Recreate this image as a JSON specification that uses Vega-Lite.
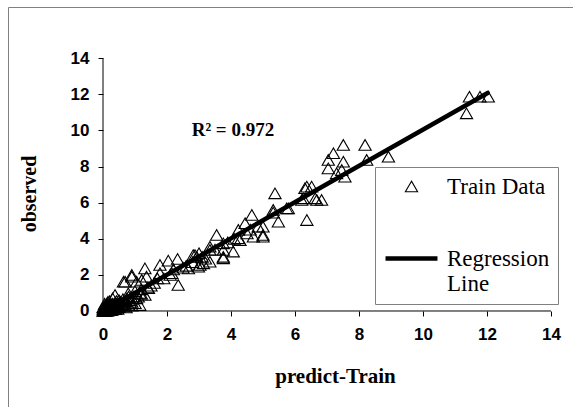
{
  "$schema": "https://vega.github.io/schema/vega-lite/v6.json",
  "width": 570,
  "height": 405,
  "autosize": {"type": "none"},
  "padding": {"left": 8, "top": 7, "right": 0, "bottom": 0},
  "background": "white",
  "config": {
    "view": {"stroke": "#808080", "strokeWidth": 1},
    "axis": {
      "grid": false,
      "domain": false,
      "tickColor": "black",
      "tickSize": 5,
      "labelFont": "Liberation Sans",
      "labelFontWeight": "bold",
      "labelFontSize": 17,
      "labelColor": "black",
      "titleFont": "Liberation Serif",
      "titleFontWeight": "bold",
      "titleFontSize": 21,
      "titleColor": "black"
    },
    "legend": {
      "orient": "none",
      "legendX": 367,
      "legendY": 160,
      "title": null,
      "strokeColor": "#808080",
      "fillColor": "white",
      "padding": 8,
      "labelFont": "Liberation Serif",
      "labelFontSize": 23,
      "labelColor": "black",
      "labelOffset": 7,
      "labelLimit": 0,
      "rowPadding": 31,
      "symbolStrokeColor": "black",
      "symbolFillColor": "transparent"
    }
  },
  "datasets": {
    "train": [
      {"predicted": 0.0, "observed": 0.0}, {"predicted": 0.02, "observed": 0.03}, {"predicted": 0.04, "observed": 0.0},
      {"predicted": 0.05, "observed": 0.08}, {"predicted": 0.07, "observed": 0.02}, {"predicted": 0.08, "observed": 0.12},
      {"predicted": 0.1, "observed": 0.05}, {"predicted": 0.1, "observed": 0.18}, {"predicted": 0.12, "observed": 0.1},
      {"predicted": 0.14, "observed": 0.22}, {"predicted": 0.15, "observed": 0.02}, {"predicted": 0.16, "observed": 0.15},
      {"predicted": 0.18, "observed": 0.3}, {"predicted": 0.2, "observed": 0.1}, {"predicted": 0.22, "observed": 0.25},
      {"predicted": 0.25, "observed": 0.05}, {"predicted": 0.25, "observed": 0.35}, {"predicted": 0.28, "observed": 0.18},
      {"predicted": 0.3, "observed": 0.4}, {"predicted": 0.32, "observed": 0.25}, {"predicted": 0.35, "observed": 0.12},
      {"predicted": 0.38, "observed": 0.45}, {"predicted": 0.4, "observed": 0.3}, {"predicted": 0.42, "observed": 0.55},
      {"predicted": 0.45, "observed": 0.2}, {"predicted": 0.48, "observed": 0.4}, {"predicted": 0.5, "observed": 0.6},
      {"predicted": 0.52, "observed": 0.3}, {"predicted": 0.55, "observed": 0.5}, {"predicted": 0.6, "observed": 0.42},
      {"predicted": 0.62, "observed": 0.65}, {"predicted": 0.65, "observed": 0.25}, {"predicted": 0.7, "observed": 0.55},
      {"predicted": 0.75, "observed": 0.7}, {"predicted": 0.8, "observed": 0.35}, {"predicted": 0.85, "observed": 0.6},
      {"predicted": 0.9, "observed": 0.5}, {"predicted": 0.95, "observed": 0.8}, {"predicted": 1.0, "observed": 0.43},
      {"predicted": 1.05, "observed": 0.7}, {"predicted": 1.1, "observed": 0.79}, {"predicted": 1.15, "observed": 1.0},
      {"predicted": 1.2, "observed": 0.95}, {"predicted": 0.375, "observed": 0.886}, {"predicted": 0.79, "observed": 0.98},
      {"predicted": 1.31, "observed": 0.89}, {"predicted": 1.42, "observed": 1.26}, {"predicted": 0.06, "observed": 0.3},
      {"predicted": 0.12, "observed": 0.4}, {"predicted": 0.2, "observed": 0.55}, {"predicted": 0.3, "observed": 0.7},
      {"predicted": 0.9, "observed": 0.3}, {"predicted": 1.15, "observed": 0.33},
      {"predicted": 0.01, "observed": 0.1}, {"predicted": 0.03, "observed": 0.15}, {"predicted": 0.06, "observed": 0.05},
      {"predicted": 0.09, "observed": 0.25}, {"predicted": 0.11, "observed": 0.0}, {"predicted": 0.13, "observed": 0.3},
      {"predicted": 0.17, "observed": 0.07}, {"predicted": 0.19, "observed": 0.2}, {"predicted": 0.21, "observed": 0.4},
      {"predicted": 0.23, "observed": 0.15}, {"predicted": 0.26, "observed": 0.28}, {"predicted": 0.29, "observed": 0.08},
      {"predicted": 0.33, "observed": 0.35}, {"predicted": 0.36, "observed": 0.2}, {"predicted": 0.39, "observed": 0.1},
      {"predicted": 0.43, "observed": 0.38}, {"predicted": 0.46, "observed": 0.12}, {"predicted": 0.5, "observed": 0.22},
      {"predicted": 0.58, "observed": 0.33}, {"predicted": 0.68, "observed": 0.4}, {"predicted": 0.72, "observed": 0.2},
      {"predicted": 0.0, "observed": 0.2}, {"predicted": 0.05, "observed": 0.4}, {"predicted": 0.15, "observed": 0.5},
      {"predicted": 0.64, "observed": 1.62}, {"predicted": 0.69, "observed": 1.62}, {"predicted": 0.9, "observed": 1.9},
      {"predicted": 0.9, "observed": 2.0}, {"predicted": 1.05, "observed": 1.62}, {"predicted": 1.21, "observed": 1.72},
      {"predicted": 1.31, "observed": 2.36}, {"predicted": 1.36, "observed": 1.9}, {"predicted": 1.78, "observed": 2.55},
      {"predicted": 1.78, "observed": 2.09}, {"predicted": 2.04, "observed": 2.79}, {"predicted": 2.33, "observed": 2.88},
      {"predicted": 2.15, "observed": 2.09}, {"predicted": 2.35, "observed": 1.44}, {"predicted": 2.67, "observed": 2.36},
      {"predicted": 2.875, "observed": 3.1}, {"predicted": 2.93, "observed": 3.0}, {"predicted": 2.98, "observed": 2.45},
      {"predicted": 3.14, "observed": 2.64}, {"predicted": 3.34, "observed": 2.73}, {"predicted": 3.03, "observed": 2.55},
      {"predicted": 2.82, "observed": 3.1}, {"predicted": 3.34, "observed": 3.38}, {"predicted": 3.76, "observed": 3.38},
      {"predicted": 3.76, "observed": 2.92}, {"predicted": 3.34, "observed": 3.56}, {"predicted": 3.76, "observed": 3.0},
      {"predicted": 3.76, "observed": 3.75}, {"predicted": 3.55, "observed": 4.21}, {"predicted": 4.07, "observed": 3.29},
      {"predicted": 4.23, "observed": 4.49}, {"predicted": 4.23, "observed": 4.03}, {"predicted": 4.28, "observed": 3.93},
      {"predicted": 4.44, "observed": 4.86}, {"predicted": 4.65, "observed": 5.32}, {"predicted": 4.7, "observed": 4.12},
      {"predicted": 5.0, "observed": 4.12}, {"predicted": 4.85, "observed": 4.67}, {"predicted": 5.0, "observed": 4.67},
      {"predicted": 5.0, "observed": 4.21}, {"predicted": 5.32, "observed": 5.6}, {"predicted": 5.32, "observed": 5.45},
      {"predicted": 5.375, "observed": 6.52}, {"predicted": 5.48, "observed": 4.95}, {"predicted": 5.74, "observed": 5.69},
      {"predicted": 5.79, "observed": 5.69}, {"predicted": 6.21, "observed": 6.15}, {"predicted": 6.37, "observed": 6.89},
      {"predicted": 6.31, "observed": 6.8}, {"predicted": 6.52, "observed": 6.89}, {"predicted": 6.37, "observed": 5.04},
      {"predicted": 6.26, "observed": 6.24}, {"predicted": 6.63, "observed": 6.24}, {"predicted": 6.68, "observed": 6.15},
      {"predicted": 6.83, "observed": 6.15},
      {"predicted": 1.5, "observed": 1.4}, {"predicted": 1.6, "observed": 1.55}, {"predicted": 1.9, "observed": 1.8},
      {"predicted": 2.1, "observed": 2.0}, {"predicted": 2.5, "observed": 2.4}, {"predicted": 2.6, "observed": 2.5},
      {"predicted": 3.1, "observed": 3.0}, {"predicted": 3.2, "observed": 2.9}, {"predicted": 3.5, "observed": 3.4},
      {"predicted": 3.9, "observed": 3.8}, {"predicted": 4.1, "observed": 4.0}, {"predicted": 4.5, "observed": 4.3},
      {"predicted": 4.6, "observed": 4.5}, {"predicted": 1.2, "observed": 1.2}, {"predicted": 1.0, "observed": 1.1},
      {"predicted": 0.8, "observed": 0.8}, {"predicted": 1.4, "observed": 1.3}, {"predicted": 1.7, "observed": 1.8},
      {"predicted": 2.2, "observed": 2.3}, {"predicted": 2.8, "observed": 2.7}, {"predicted": 3.0, "observed": 3.2},
      {"predicted": 7.51, "observed": 9.2}, {"predicted": 8.19, "observed": 9.2}, {"predicted": 7.2, "observed": 8.74},
      {"predicted": 7.04, "observed": 8.37}, {"predicted": 7.51, "observed": 8.27}, {"predicted": 8.24, "observed": 8.37},
      {"predicted": 7.04, "observed": 7.9}, {"predicted": 7.46, "observed": 7.81}, {"predicted": 7.56, "observed": 7.44},
      {"predicted": 7.3, "observed": 7.63}, {"predicted": 8.92, "observed": 8.55},
      {"predicted": 11.45, "observed": 11.87}, {"predicted": 11.78, "observed": 11.87}, {"predicted": 12.04, "observed": 11.87},
      {"predicted": 11.36, "observed": 10.95}
    ],
    "fit": [
      {"predicted": 0.0, "observed": 0.0},
      {"predicted": 12.02, "observed": 12.08}
    ]
  },
  "layer": [
    {
      "data": {"values": [{}]},
      "mark": {"type": "rule", "color": "black", "strokeWidth": 1},
      "encoding": {
        "x": {"datum": 0, "type": "quantitative", "scale": {"domain": [-2.96875, 14.84375], "nice": false, "zero": false},
          "axis": {"orient": "bottom", "offset": -101, "values": [0, 2, 4, 6, 8, 10, 12, 14], "labelPadding": 10,
            "title": "predict-Train", "titleX": 327, "titleY": 71, "titleBaseline": "alphabetic", "titleAlign": "center"}},
        "x2": {"datum": 14},
        "y": {"datum": 0, "type": "quantitative", "scale": {"domain": [-5.596, 16.842], "nice": false, "zero": false},
          "axis": {"orient": "left", "offset": -95, "values": [0, 2, 4, 6, 8, 10, 12, 14], "labelPadding": 9,
            "title": "observed", "titleFontSize": 20, "titleX": -68, "titleY": 186.5, "titleBaseline": "alphabetic", "titleAlign": "center", "titleAngle": -90}}
      }
    },
    {
      "data": {"values": [{}]},
      "mark": {"type": "rule", "color": "black", "strokeWidth": 1},
      "encoding": {
        "x": {"datum": 0, "type": "quantitative"},
        "y": {"datum": 0, "type": "quantitative"},
        "y2": {"datum": 14}
      }
    },
    {
      "data": {"name": "train"},
      "mark": {"type": "point", "filled": false, "color": "black", "opacity": 1},
      "encoding": {
        "x": {"field": "predicted", "type": "quantitative"},
        "y": {"field": "observed", "type": "quantitative"},
        "shape": {
          "datum": "Train Data",
          "type": "nominal",
          "scale": {"domain": ["Train Data", "Regression Line"], "range": ["triangle-up", "stroke"]},
          "legend": {
            "labelExpr": "datum.label == 'Regression Line' ? ['Regression', 'Line'] : datum.label"
          }
        },
        "size": {
          "datum": "Train Data",
          "type": "ordinal",
          "scale": {"type": "point", "padding": 0, "domain": ["Train Data", "Regression Line"], "range": [150, 2700]},
          "legend": {
            "labelExpr": "datum.label == 'Regression Line' ? ['Regression', 'Line'] : datum.label"
          }
        },
        "strokeWidth": {
          "datum": "Train Data",
          "type": "ordinal",
          "scale": {"type": "point", "padding": 0, "domain": ["Train Data", "Regression Line"], "range": [1.1, 4.5]},
          "legend": {
            "labelExpr": "datum.label == 'Regression Line' ? ['Regression', 'Line'] : datum.label"
          }
        }
      }
    },
    {
      "data": {"name": "fit"},
      "mark": {"type": "line", "strokeWidth": 4.5, "strokeCap": "round", "color": "black"},
      "encoding": {
        "x": {"field": "predicted", "type": "quantitative"},
        "y": {"field": "observed", "type": "quantitative"}
      }
    },
    {
      "data": {"values": [{}]},
      "mark": {"type": "text", "font": "Liberation Serif", "fontWeight": "bold", "fontSize": 19, "align": "center", "baseline": "alphabetic", "color": "black"},
      "encoding": {
        "x": {"datum": 4.06, "type": "quantitative"},
        "y": {"datum": 9.7, "type": "quantitative"},
        "text": {"value": "R² = 0.972"}
      }
    }
  ]
}
